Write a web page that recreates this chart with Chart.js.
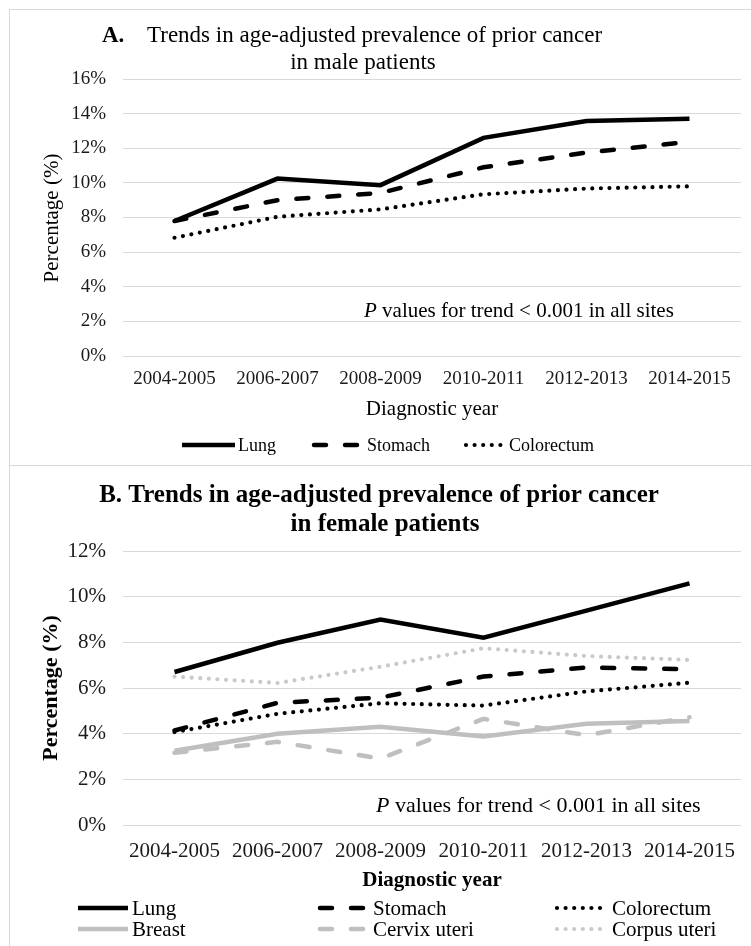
<!DOCTYPE html>
<html>
<head>
<meta charset="utf-8">
<script src="https://cdn.jsdelivr.net/npm/chart.js@4.4.1/dist/chart.umd.min.js"></script>
<style>
  body { margin: 0; background: #fff; }
  #wrap { position: relative; width: 751px; height: 946px; overflow: hidden; }
  canvas { position: absolute; left: 0; }
  #chartA { top: 0; }
  #chartB { top: 466px; }
  #boxA { position: absolute; left: 9px; top: 9px; width: 760px; height: 455px; border: 1px solid #d9d9d9; }
  #boxB { position: absolute; left: 9px; top: 465px; width: 760px; height: 500px; border-left: 1px solid #d9d9d9; }
</style>
</head>
<body>
<div id="wrap">
  <div id="boxA"></div>
  <div id="boxB"></div>
  <canvas id="chartA" width="751" height="465"></canvas>
  <canvas id="chartB" width="751" height="480"></canvas>
</div>
<script>
const years = ['2004-2005', '2006-2007', '2008-2009', '2010-2011', '2012-2013', '2014-2015'];

// panel A - male
const maleLung       = [7.8, 10.25, 9.87, 12.6, 13.57, 13.7];
const maleStomach    = [7.8, 9.0, 9.42, 10.9, 11.75, 12.37];
const maleColorectum = [6.83, 8.04, 8.47, 9.34, 9.67, 9.8];
const maleYMax = 16;

// panel B - female
const femaleLung       = [6.7, 7.98, 9.0, 8.2, 9.39, 10.58];
const femaleStomach    = [4.14, 5.35, 5.58, 6.5, 6.9, 6.82];
const femaleColorectum = [4.07, 4.87, 5.33, 5.23, 5.85, 6.23];
const femaleBreast     = [3.25, 4.0, 4.3, 3.88, 4.43, 4.55];
const femaleCervix     = [3.16, 3.64, 2.91, 4.65, 3.93, 4.72];
const femaleCorpus     = [6.5, 6.22, 6.93, 7.74, 7.4, 7.23];
const femaleYMax = 12;

const yStep = 2;
const SERIF = '"Liberation Serif", "Times New Roman", serif';
const BLACK = '#000000';
const GRAY = '#bfbfbf';
const LIGHT = '#c9c9c9';

function solid(label, data, color) {
  return { label, data, borderColor: color, borderWidth: 4.5, pointRadius: 0, tension: 0, fill: false };
}
function dashed(label, data, color) {
  return { label, data, borderColor: color, borderWidth: 4.5, borderDash: [12, 19], borderCapStyle: 'round', pointRadius: 0, tension: 0, fill: false };
}
function dotted(label, data, color) {
  return { label, data, borderColor: color, borderWidth: 4.2, borderDash: [0, 8.6], borderCapStyle: 'round', pointRadius: 0, tension: 0, fill: false };
}

// draws titles, axis titles, note and legend on the canvas
const textPlugin = {
  id: 'texts',
  afterDraw(chart, args, opts) {
    const ctx = chart.ctx;
    ctx.save();
    ctx.fillStyle = '#000';
    ctx.textBaseline = 'middle';
    (opts.labels || []).forEach(t => {
      if (t.rotate) {
        ctx.save();
        ctx.font = t.font;
        ctx.textAlign = 'center';
        ctx.translate(t.x, t.y);
        ctx.rotate(-Math.PI / 2);
        ctx.fillText(t.text, 0, 0);
        ctx.restore();
        return;
      }
      const parts = t.parts || [{ text: t.text, font: t.font }];
      let total = 0;
      parts.forEach(p => { ctx.font = p.font; total += ctx.measureText(p.text).width; });
      let x = t.align === 'center' ? t.x - total / 2 : t.x;
      ctx.textAlign = 'left';
      parts.forEach(p => {
        ctx.font = p.font;
        ctx.fillText(p.text, x, t.y);
        x += ctx.measureText(p.text).width;
      });
    });
    (opts.legend || []).forEach(item => {
      const ds = chart.data.datasets[item.index];
      ctx.save();
      ctx.strokeStyle = ds.borderColor;
      ctx.lineWidth = ds.borderWidth;
      ctx.lineCap = ds.borderCapStyle || 'butt';
      ctx.setLineDash(ds.borderDash || []);
      ctx.beginPath();
      ctx.moveTo(item.x, item.y);
      ctx.lineTo(item.x + item.w, item.y);
      ctx.stroke();
      ctx.restore();
      ctx.font = opts.legendFont;
      ctx.textAlign = 'left';
      ctx.fillText(ds.label, item.tx, item.y + 1);
    });
    ctx.restore();
  }
};

function makeOptions(yMax, tickSize, padTop, axisHeight, tickPad, texts) {
  return {
    responsive: false,
    animation: false,
    layout: { padding: { top: padTop, right: 10, left: 0, bottom: 0 } },
    plugins: {
      legend: { display: false },
      tooltip: { enabled: false },
      texts: texts
    },
    scales: {
      x: {
        offset: true,
        grid: { display: false, drawTicks: false },
        border: { display: false },
        ticks: { color: '#1a1a1a', font: { family: SERIF, size: tickSize }, padding: tickPad, maxRotation: 0, autoSkip: false },
        afterFit: s => { s.height = axisHeight; }
      },
      y: {
        min: 0,
        max: yMax,
        grid: { color: '#d9d9d9', lineWidth: 1, drawTicks: false },
        border: { display: false },
        ticks: {
          stepSize: yStep,
          color: '#1a1a1a',
          font: { family: SERIF, size: tickSize },
          padding: 17,
          callback: v => v + '%'
        },
        afterFit: s => { s.width = 123; }
      }
    }
  };
}

new Chart(document.getElementById('chartA'), {
  type: 'line',
  data: {
    labels: years,
    datasets: [
      solid('Lung', maleLung, BLACK),
      dashed('Stomach', maleStomach, BLACK),
      dotted('Colorectum', maleColorectum, BLACK)
    ]
  },
  options: makeOptions(maleYMax, 19, 79, 109, 12, {
    labels: [
      { text: 'A.', font: 'bold 23px ' + SERIF, x: 102, y: 36 },
      { text: 'Trends in age-adjusted prevalence of prior cancer', font: '23px ' + SERIF, x: 147, y: 36 },
      { text: 'in male patients', font: '23px ' + SERIF, x: 363, y: 63, align: 'center' },
      { text: 'Percentage (%)', font: '21px ' + SERIF, x: 52, y: 218, rotate: true },
      { text: 'Diagnostic year', font: '21px ' + SERIF, x: 432, y: 409, align: 'center' },
      { parts: [{ text: 'P', font: 'italic 21px ' + SERIF }, { text: ' values for trend < 0.001 in all sites', font: '21px ' + SERIF }], x: 364, y: 311 }
    ],
    legendFont: '18px ' + SERIF,
    legend: [
      { index: 0, x: 182, w: 53, y: 445, tx: 238 },
      { index: 1, x: 314, w: 44, y: 445, tx: 367 },
      { index: 2, x: 466, w: 37, y: 445, tx: 509 }
    ]
  }),
  plugins: [textPlugin]
});

new Chart(document.getElementById('chartB'), {
  type: 'line',
  data: {
    labels: years,
    datasets: [
      solid('Lung', femaleLung, BLACK),
      dashed('Stomach', femaleStomach, BLACK),
      dotted('Colorectum', femaleColorectum, BLACK),
      solid('Breast', femaleBreast, GRAY),
      dashed('Cervix uteri', femaleCervix, GRAY),
      dotted('Corpus uteri', femaleCorpus, LIGHT)
    ]
  },
  options: makeOptions(femaleYMax, 21, 85, 121, 14, {
    labels: [
      { text: 'B. Trends in age-adjusted prevalence of prior cancer', font: 'bold 25px ' + SERIF, x: 379, y: 30, align: 'center' },
      { text: 'in female patients', font: 'bold 25px ' + SERIF, x: 385, y: 59, align: 'center' },
      { text: 'Percentage (%)', font: 'bold 22px ' + SERIF, x: 51, y: 222, rotate: true },
      { text: 'Diagnostic year', font: 'bold 21px ' + SERIF, x: 432, y: 415, align: 'center' },
      { parts: [{ text: 'P', font: 'italic 22px ' + SERIF }, { text: ' values for trend < 0.001 in all sites', font: '22px ' + SERIF }], x: 376, y: 340 }
    ],
    legendFont: '21px ' + SERIF,
    legend: [
      { index: 0, x: 78, w: 50, y: 442, tx: 132 },
      { index: 1, x: 320, w: 46, y: 442, tx: 373 },
      { index: 2, x: 557, w: 46, y: 442, tx: 612 },
      { index: 3, x: 78, w: 50, y: 463, tx: 132 },
      { index: 4, x: 320, w: 46, y: 463, tx: 373 },
      { index: 5, x: 557, w: 46, y: 463, tx: 612 }
    ]
  }),
  plugins: [textPlugin]
});
</script>
</body>
</html>
